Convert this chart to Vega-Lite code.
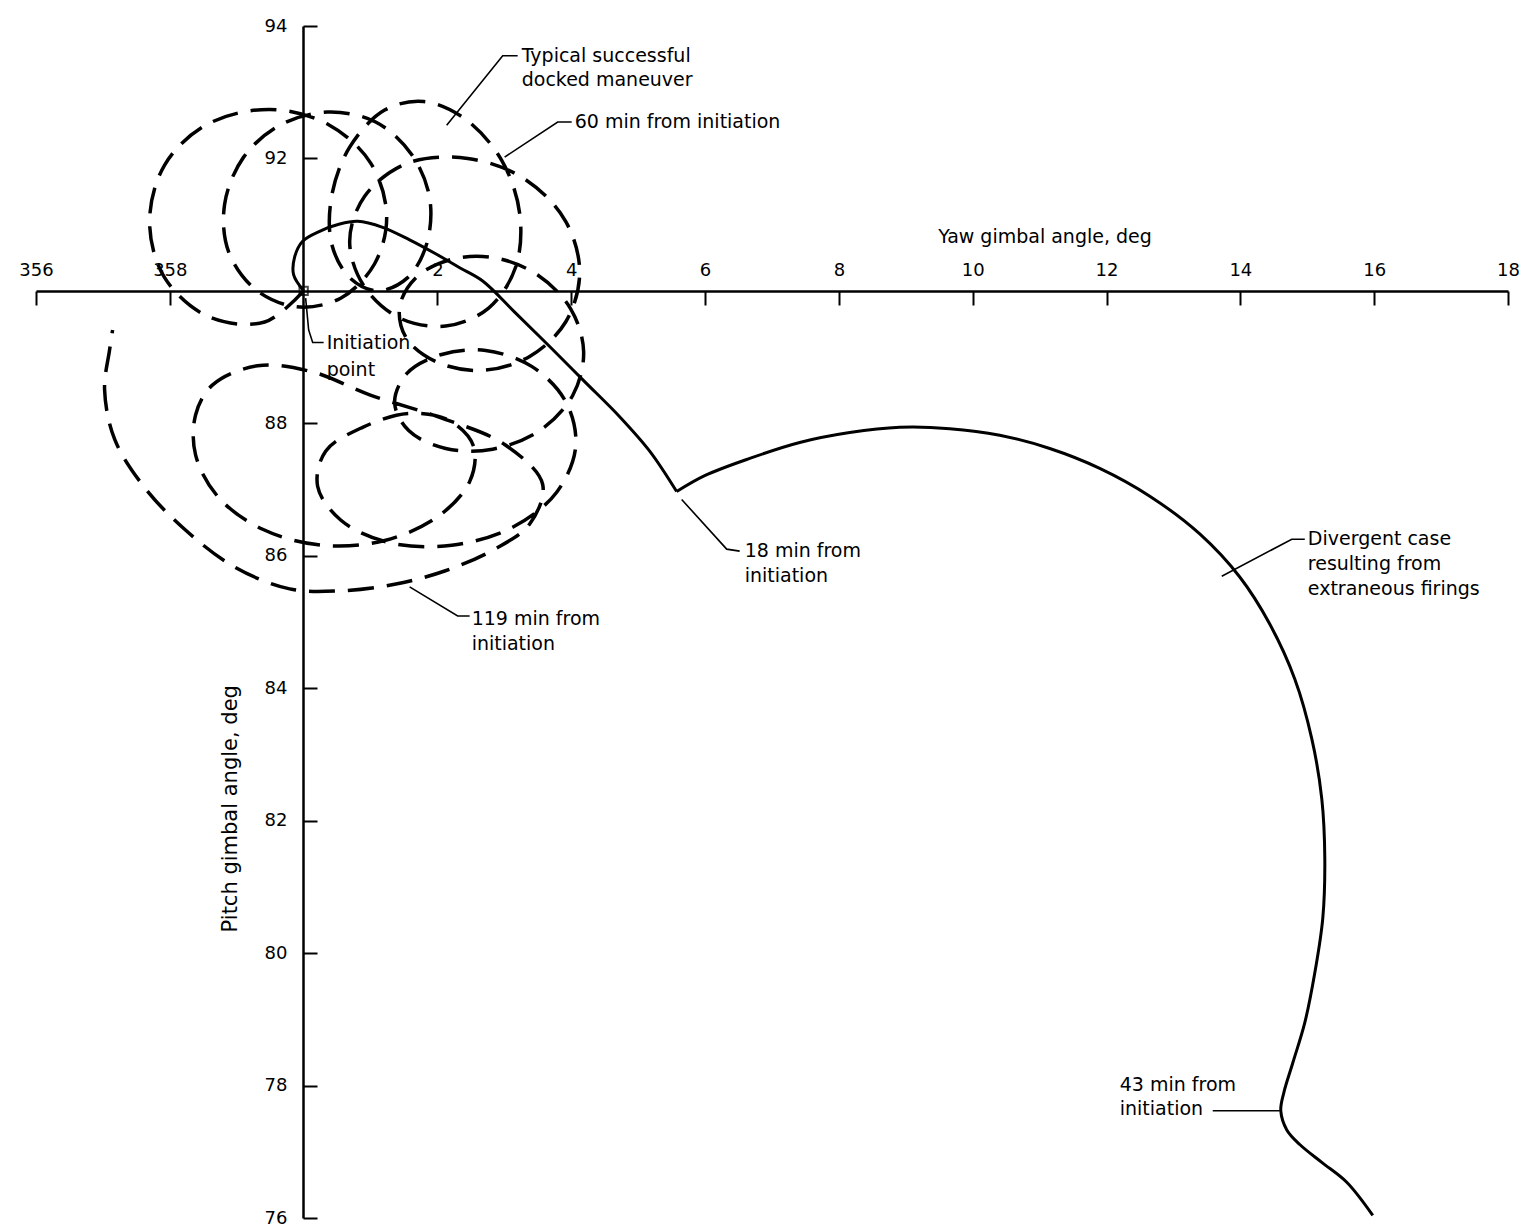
{
  "$schema": "https://vega.github.io/schema/vega-lite/v6.json",
  "width": 1472,
  "height": 1192,
  "autosize": {"type": "none"},
  "padding": {"left": 36, "top": 26, "right": 17, "bottom": 9},
  "background": "white",
  "config": {"view": {"stroke": null}},
  "datasets": {
    "docked": [
      {"i":1,"yaw":0,"pitch":90},{"i":2,"yaw":-0.583,"pitch":89.53},{"i":3,"yaw":-1.42,"pitch":89.61},{"i":4,"yaw":-2.078,"pitch":90.2},{"i":5,"yaw":-2.302,"pitch":91.04},{"i":6,"yaw":-2.078,"pitch":91.9},{"i":7,"yaw":-1.45,"pitch":92.51},{"i":8,"yaw":-0.508,"pitch":92.74},{"i":9,"yaw":0.374,"pitch":92.51},{"i":10,"yaw":1.002,"pitch":91.93},{"i":11,"yaw":1.241,"pitch":91.14},{"i":12,"yaw":1.061,"pitch":90.41},
      {"i":13,"yaw":0.553,"pitch":89.89},{"i":14,"yaw":-0.105,"pitch":89.76},{"i":15,"yaw":-0.718,"pitch":90.02},{"i":16,"yaw":-1.121,"pitch":90.59},{"i":17,"yaw":-1.181,"pitch":91.31},{"i":18,"yaw":-0.897,"pitch":92.02},{"i":19,"yaw":-0.359,"pitch":92.5},{"i":20,"yaw":0.359,"pitch":92.7},{"i":21,"yaw":1.076,"pitch":92.55},{"i":22,"yaw":1.614,"pitch":92.06},{"i":23,"yaw":1.884,"pitch":91.4},{"i":24,"yaw":1.839,"pitch":90.71},
      {"i":25,"yaw":1.555,"pitch":90.2},{"i":26,"yaw":1.106,"pitch":90.0},{"i":27,"yaw":0.688,"pitch":90.2},{"i":28,"yaw":0.419,"pitch":90.71},{"i":29,"yaw":0.419,"pitch":91.43},{"i":30,"yaw":0.688,"pitch":92.17},{"i":31,"yaw":1.211,"pitch":92.73},{"i":32,"yaw":1.794,"pitch":92.86},{"i":33,"yaw":2.422,"pitch":92.59},{"i":34,"yaw":2.96,"pitch":91.97},{"i":35,"yaw":3.229,"pitch":91.17},{"i":36,"yaw":3.169,"pitch":90.36},
      {"i":37,"yaw":2.765,"pitch":89.74},{"i":38,"yaw":2.123,"pitch":89.47},{"i":39,"yaw":1.435,"pitch":89.59},{"i":40,"yaw":0.897,"pitch":90.08},{"i":41,"yaw":0.688,"pitch":90.75},{"i":42,"yaw":0.912,"pitch":91.43},{"i":43,"yaw":1.555,"pitch":91.93},{"i":44,"yaw":2.452,"pitch":92.0},{"i":45,"yaw":3.303,"pitch":91.69},{"i":46,"yaw":3.916,"pitch":91.05},{"i":47,"yaw":4.126,"pitch":90.27},{"i":48,"yaw":3.916,"pitch":89.53},
      {"i":49,"yaw":3.378,"pitch":89.01},{"i":50,"yaw":2.676,"pitch":88.8},{"i":51,"yaw":2.003,"pitch":88.92},{"i":52,"yaw":1.54,"pitch":89.28},{"i":53,"yaw":1.435,"pitch":89.76},{"i":54,"yaw":1.689,"pitch":90.21},{"i":55,"yaw":2.227,"pitch":90.48},{"i":56,"yaw":2.855,"pitch":90.5},{"i":57,"yaw":3.498,"pitch":90.24},{"i":58,"yaw":3.991,"pitch":89.73},{"i":59,"yaw":4.185,"pitch":89.08},{"i":60,"yaw":4.021,"pitch":88.42},
      {"i":61,"yaw":3.528,"pitch":87.89},{"i":62,"yaw":2.825,"pitch":87.61},{"i":63,"yaw":2.123,"pitch":87.62},{"i":64,"yaw":1.57,"pitch":87.89},{"i":65,"yaw":1.36,"pitch":88.31},{"i":66,"yaw":1.54,"pitch":88.75},{"i":67,"yaw":2.063,"pitch":89.04},{"i":68,"yaw":2.721,"pitch":89.1},{"i":69,"yaw":3.408,"pitch":88.86},{"i":70,"yaw":3.916,"pitch":88.33},{"i":71,"yaw":4.066,"pitch":87.65},{"i":72,"yaw":3.782,"pitch":86.96},
      {"i":73,"yaw":3.124,"pitch":86.43},{"i":74,"yaw":2.212,"pitch":86.16},{"i":75,"yaw":1.271,"pitch":86.2},{"i":76,"yaw":0.553,"pitch":86.54},{"i":77,"yaw":0.209,"pitch":87.05},{"i":78,"yaw":0.329,"pitch":87.58},{"i":79,"yaw":0.882,"pitch":87.94},{"i":80,"yaw":1.57,"pitch":88.15},{"i":81,"yaw":2.182,"pitch":88.04},{"i":82,"yaw":2.541,"pitch":87.65},{"i":83,"yaw":2.481,"pitch":87.12},{"i":84,"yaw":2.018,"pitch":86.6},
      {"i":85,"yaw":1.211,"pitch":86.23},{"i":86,"yaw":0.269,"pitch":86.16},{"i":87,"yaw":-0.613,"pitch":86.4},{"i":88,"yaw":-1.271,"pitch":86.88},{"i":89,"yaw":-1.614,"pitch":87.52},{"i":90,"yaw":-1.614,"pitch":88.13},{"i":91,"yaw":-1.36,"pitch":88.58},{"i":92,"yaw":-0.688,"pitch":88.87},{"i":93,"yaw":0.12,"pitch":88.78},{"i":94,"yaw":0.987,"pitch":88.43},{"i":95,"yaw":2.033,"pitch":88.09},{"i":96,"yaw":3.004,"pitch":87.68},
      {"i":97,"yaw":3.572,"pitch":87.08},{"i":98,"yaw":3.378,"pitch":86.48},{"i":99,"yaw":2.855,"pitch":86.1},{"i":100,"yaw":2.108,"pitch":85.77},{"i":101,"yaw":1.36,"pitch":85.57},{"i":102,"yaw":0.538,"pitch":85.47},{"i":103,"yaw":-0.209,"pitch":85.5},{"i":104,"yaw":-1.031,"pitch":85.83},{"i":105,"yaw":-1.779,"pitch":86.4},{"i":106,"yaw":-2.377,"pitch":87.03},{"i":107,"yaw":-2.825,"pitch":87.76},{"i":108,"yaw":-2.975,"pitch":88.51},{"i":109,"yaw":-2.9,"pitch":89.11},{"i":110,"yaw":-2.855,"pitch":89.41}
    ],
    "divergent": [
      {"seg":"a","i":1,"yaw":0,"pitch":90},{"seg":"a","i":2,"yaw":-0.149,"pitch":90.24},{"seg":"a","i":3,"yaw":-0.135,"pitch":90.51},{"seg":"a","i":4,"yaw":-0.015,"pitch":90.75},{"seg":"a","i":5,"yaw":0.239,"pitch":90.9},{"seg":"a","i":6,"yaw":0.538,"pitch":91.01},{"seg":"a","i":7,"yaw":0.807,"pitch":91.05},{"seg":"a","i":8,"yaw":1.181,"pitch":90.96},{"seg":"a","i":9,"yaw":1.584,"pitch":90.77},{"seg":"a","i":10,"yaw":1.973,"pitch":90.56},{"seg":"a","i":11,"yaw":2.332,"pitch":90.35},{"seg":"a","i":12,"yaw":2.676,"pitch":90.15},{"seg":"a","i":13,"yaw":3.154,"pitch":89.68},{"seg":"a","i":14,"yaw":3.677,"pitch":89.16},{"seg":"a","i":15,"yaw":4.2,"pitch":88.63},{"seg":"a","i":16,"yaw":4.723,"pitch":88.1},{"seg":"a","i":17,"yaw":5.172,"pitch":87.58},{"seg":"a","i":18,"yaw":5.575,"pitch":86.97},
      {"seg":"b","i":18,"yaw":5.575,"pitch":86.97},{"seg":"b","i":19,"yaw":5.994,"pitch":87.21},{"seg":"b","i":20,"yaw":6.667,"pitch":87.47},{"seg":"b","i":21,"yaw":7.414,"pitch":87.71},{"seg":"b","i":22,"yaw":8.161,"pitch":87.86},{"seg":"b","i":23,"yaw":8.909,"pitch":87.94},{"seg":"b","i":24,"yaw":9.656,"pitch":87.92},{"seg":"b","i":25,"yaw":10.404,"pitch":87.82},{"seg":"b","i":26,"yaw":11.151,"pitch":87.62},{"seg":"b","i":27,"yaw":11.898,"pitch":87.32},{"seg":"b","i":28,"yaw":12.646,"pitch":86.9},{"seg":"b","i":29,"yaw":13.393,"pitch":86.33},{"seg":"b","i":30,"yaw":13.991,"pitch":85.68},{"seg":"b","i":31,"yaw":14.439,"pitch":84.97},{"seg":"b","i":32,"yaw":14.813,"pitch":84.14},{"seg":"b","i":33,"yaw":15.067,"pitch":83.24},{"seg":"b","i":34,"yaw":15.217,"pitch":82.33},{"seg":"b","i":35,"yaw":15.262,"pitch":81.43},{"seg":"b","i":36,"yaw":15.232,"pitch":80.53},{"seg":"b","i":37,"yaw":15.112,"pitch":79.7},{"seg":"b","i":38,"yaw":14.963,"pitch":78.95},{"seg":"b","i":39,"yaw":14.783,"pitch":78.34},{"seg":"b","i":40,"yaw":14.649,"pitch":77.89},{"seg":"b","i":41,"yaw":14.604,"pitch":77.62},{"seg":"b","i":42,"yaw":14.694,"pitch":77.33},{"seg":"b","i":43,"yaw":14.888,"pitch":77.11},{"seg":"b","i":44,"yaw":15.217,"pitch":76.84},{"seg":"b","i":45,"yaw":15.59,"pitch":76.54},{"seg":"b","i":46,"yaw":15.979,"pitch":76.04}
    ],
    "leaders": [
      {"id":"typ","i":1,"yaw":3.199,"pitch":93.55},{"id":"typ","i":2,"yaw":2.975,"pitch":93.55},{"id":"typ","i":3,"yaw":2.138,"pitch":92.5},
      {"id":"m60","i":1,"yaw":4.006,"pitch":92.55},{"id":"m60","i":2,"yaw":3.797,"pitch":92.55},{"id":"m60","i":3,"yaw":3.004,"pitch":92.02},
      {"id":"init","i":1,"yaw":0.03,"pitch":89.89},{"id":"init","i":2,"yaw":0.075,"pitch":89.41},{"id":"init","i":3,"yaw":0.135,"pitch":89.22},{"id":"init","i":4,"yaw":0.299,"pitch":89.22},
      {"id":"m18","i":1,"yaw":6.517,"pitch":86.07},{"id":"m18","i":2,"yaw":6.323,"pitch":86.1},{"id":"m18","i":3,"yaw":5.65,"pitch":86.85},
      {"id":"m119","i":1,"yaw":2.481,"pitch":85.09},{"id":"m119","i":2,"yaw":2.302,"pitch":85.09},{"id":"m119","i":3,"yaw":1.584,"pitch":85.53},
      {"id":"m43","i":1,"yaw":13.587,"pitch":77.62},{"id":"m43","i":2,"yaw":14.589,"pitch":77.62},
      {"id":"div","i":1,"yaw":14.963,"pitch":86.25},{"id":"div","i":2,"yaw":14.768,"pitch":86.25},{"id":"div","i":3,"yaw":13.722,"pitch":85.69}
    ],
    "notes": [
      {"text":"Typical successful","yaw":3.259,"pitch":93.55},
      {"text":"docked maneuver","yaw":3.259,"pitch":93.19},
      {"text":"60 min from initiation","yaw":4.051,"pitch":92.55},
      {"text":"Initiation","yaw":0.344,"pitch":89.22},
      {"text":"point","yaw":0.344,"pitch":88.8},
      {"text":"18 min from","yaw":6.592,"pitch":86.07},
      {"text":"initiation","yaw":6.592,"pitch":85.69},
      {"text":"119 min from","yaw":2.511,"pitch":85.05},
      {"text":"initiation","yaw":2.511,"pitch":84.67},
      {"text":"43 min from","yaw":12.197,"pitch":78.01},
      {"text":"initiation","yaw":12.197,"pitch":77.64},
      {"text":"Divergent case","yaw":15.008,"pitch":86.25},
      {"text":"resulting from","yaw":15.008,"pitch":85.87},
      {"text":"extraneous firings","yaw":15.008,"pitch":85.5}
    ]
  },
  "resolve": {"axis": {"x": "independent", "y": "independent"}},
  "layer": [
    {
      "data": {"name": "docked"},
      "mark": {"type": "line", "interpolate": "catmull-rom", "color": "black", "strokeWidth": 3.5, "strokeDash": [26, 13], "strokeCap": "butt"},
      "encoding": {
        "x": {"field": "yaw", "type": "quantitative", "scale": {"domain": [-4, 18], "nice": false, "zero": false},
          "axis": {"orient": "top", "offset": -265, "values": [-4, -2, 2, 4, 6, 8, 10, 12, 14, 16, 18], "labelExpr": "datum.value < 0 ? '' + (datum.value + 360) : datum.label", "ticks": false, "grid": false, "title": null, "domain": true, "domainWidth": 2.5, "domainColor": "black", "labelFont": "DejaVu Sans", "labelFontSize": 18, "labelColor": "black", "labelPadding": 12, "labelFlush": false, "labelOverlap": false}},
        "y": {"field": "pitch", "type": "quantitative", "scale": {"domain": [76, 94], "nice": false, "zero": false},
          "axis": {"orient": "left", "offset": -267, "values": [76, 78, 80, 82, 84, 86, 88, 92, 94], "ticks": false, "grid": false, "title": null, "domain": true, "domainWidth": 2.5, "domainColor": "black", "labelFont": "DejaVu Sans", "labelFontSize": 18, "labelColor": "black", "labelPadding": 16, "labelFlush": false, "labelOverlap": false}},
        "order": {"field": "i", "type": "quantitative"}
      }
    },
    {
      "data": {"name": "divergent"},
      "mark": {"type": "line", "interpolate": "catmull-rom", "color": "black", "strokeWidth": 3},
      "encoding": {
        "x": {"field": "yaw", "type": "quantitative",
          "axis": {"orient": "bottom", "offset": -927, "values": [-4, -2, 2, 4, 6, 8, 10, 12, 14, 16, 18], "labels": false, "ticks": true, "tickSize": 14, "tickWidth": 2, "tickColor": "black", "domain": false, "grid": false, "title": null}},
        "y": {"field": "pitch", "type": "quantitative",
          "axis": {"orient": "right", "offset": -1205, "values": [76, 78, 80, 82, 84, 86, 88, 92, 94], "labels": false, "ticks": true, "tickSize": 14, "tickWidth": 2, "tickColor": "black", "domain": false, "grid": false, "title": null}},
        "detail": {"field": "seg"},
        "order": {"field": "i", "type": "quantitative"}
      }
    },
    {
      "data": {"name": "leaders"},
      "mark": {"type": "line", "color": "black", "strokeWidth": 1.6},
      "encoding": {
        "x": {"field": "yaw", "type": "quantitative", "axis": null},
        "y": {"field": "pitch", "type": "quantitative", "axis": null},
        "detail": {"field": "id"},
        "order": {"field": "i", "type": "quantitative"}
      }
    },
    {
      "data": {"values": [{"yaw": 0, "pitch": 90}]},
      "mark": {"type": "point", "shape": "square", "size": 70, "filled": false, "color": "black", "strokeWidth": 2},
      "encoding": {
        "x": {"field": "yaw", "type": "quantitative", "axis": null},
        "y": {"field": "pitch", "type": "quantitative", "axis": null}
      }
    },
    {
      "data": {"name": "notes"},
      "mark": {"type": "text", "align": "left", "baseline": "middle", "font": "DejaVu Sans", "fontSize": 19, "color": "black"},
      "encoding": {
        "x": {"field": "yaw", "type": "quantitative", "axis": null},
        "y": {"field": "pitch", "type": "quantitative", "axis": null},
        "text": {"field": "text"}
      }
    },
    {
      "data": {"values": [{"text": "Yaw gimbal angle, deg", "yaw": 11.08, "pitch": 90.81}]},
      "mark": {"type": "text", "align": "center", "baseline": "middle", "font": "DejaVu Sans", "fontSize": 19, "color": "black"},
      "encoding": {
        "x": {"field": "yaw", "type": "quantitative", "axis": null},
        "y": {"field": "pitch", "type": "quantitative", "axis": null},
        "text": {"field": "text"}
      }
    },
    {
      "data": {"values": [{"text": "Pitch gimbal angle, deg", "yaw": -1.08, "pitch": 82.18}]},
      "mark": {"type": "text", "align": "center", "baseline": "middle", "angle": 270, "font": "DejaVu Sans", "fontSize": 21, "color": "black"},
      "encoding": {
        "x": {"field": "yaw", "type": "quantitative", "axis": null},
        "y": {"field": "pitch", "type": "quantitative", "axis": null},
        "text": {"field": "text"}
      }
    }
  ]
}
